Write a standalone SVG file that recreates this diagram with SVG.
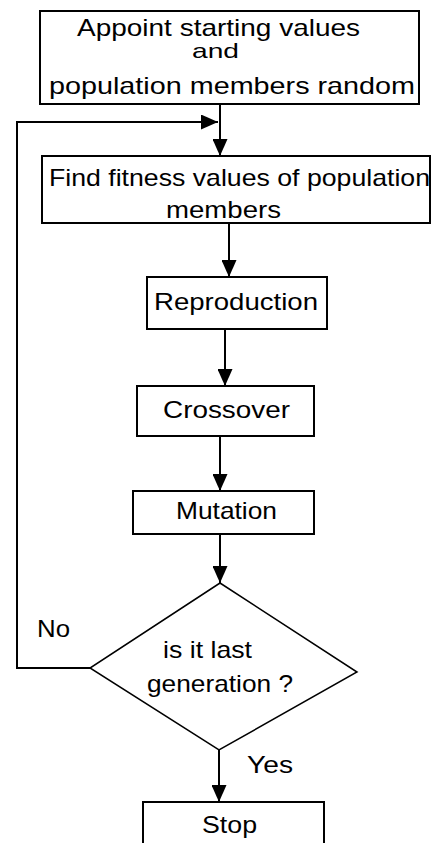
<svg xmlns="http://www.w3.org/2000/svg" width="432" height="843" viewBox="0 0 432 843">
<style>
.box{fill:#fff;stroke:#000;stroke-width:2}
.dia{fill:none;stroke:#000;stroke-width:1.5}
.t{font-family:"Liberation Sans",Arial,sans-serif;font-size:24px;fill:#000}
.c{fill:none;stroke:#000;stroke-width:2}
</style>
<defs>
<marker id="ah" viewBox="0 0 17 15" refX="17" refY="7.5" markerWidth="17" markerHeight="15" markerUnits="userSpaceOnUse" orient="auto">
<path d="M0,0 L17,7.5 L0,15 Z" fill="#000"/>
</marker>
</defs>
<rect width="432" height="843" fill="#fff"/>
<g id="start">
<rect class="box" x="40" y="11" width="379" height="93"/>
<text class="t" x="77" y="36" textLength="283" lengthAdjust="spacingAndGlyphs">Appoint starting values</text>
<text class="t" x="192" y="58" style="font-size:21px" textLength="47" lengthAdjust="spacingAndGlyphs">and</text>
<text class="t" x="49" y="94" textLength="366" lengthAdjust="spacingAndGlyphs">population members random</text>
</g>
<g id="fitness">
<rect class="box" x="42" y="156" width="388" height="67"/>
<text class="t" x="49" y="186" textLength="381" lengthAdjust="spacingAndGlyphs">Find fitness values of population</text>
<text class="t" x="166" y="218" textLength="115" lengthAdjust="spacingAndGlyphs">members</text>
</g>
<g id="reproduction">
<rect class="box" x="147" y="277" width="180" height="52"/>
<text class="t" x="154" y="310" textLength="164" lengthAdjust="spacingAndGlyphs">Reproduction</text>
</g>
<g id="crossover">
<rect class="box" x="137" y="386" width="177" height="50"/>
<text class="t" x="163" y="418" textLength="127" lengthAdjust="spacingAndGlyphs">Crossover</text>
</g>
<g id="mutation">
<rect class="box" x="133" y="491" width="181" height="43"/>
<text class="t" x="176" y="519" textLength="101" lengthAdjust="spacingAndGlyphs">Mutation</text>
</g>
<g id="decision">
<path class="dia" d="M220,583 L357,672 L219,750 L90,668 Z"/>
<text class="t" x="163" y="658" textLength="89" lengthAdjust="spacingAndGlyphs">is it last</text>
<text class="t" x="147" y="692" textLength="146" lengthAdjust="spacingAndGlyphs">generation ?</text>
</g>
<g id="stop">
<rect class="box" x="143" y="802" width="181" height="50"/>
<text class="t" x="202" y="833" textLength="55" lengthAdjust="spacingAndGlyphs">Stop</text>
</g>
<g id="connectors">
<line class="c" x1="220" y1="104" x2="220" y2="156" marker-end="url(#ah)"/>
<line class="c" x1="229" y1="223" x2="229" y2="277" marker-end="url(#ah)"/>
<line class="c" x1="225" y1="329" x2="225" y2="386" marker-end="url(#ah)"/>
<line class="c" x1="220" y1="436" x2="220" y2="491" marker-end="url(#ah)"/>
<line class="c" x1="220" y1="534" x2="220" y2="583" marker-end="url(#ah)"/>
<line class="c" x1="219" y1="750" x2="219" y2="802" marker-end="url(#ah)"/>
<polyline class="c" points="90,668 17,668 17,122 218,122" marker-end="url(#ah)"/>
<text class="t" x="37" y="637" textLength="33" lengthAdjust="spacingAndGlyphs">No</text>
<text class="t" x="247" y="773" textLength="46" lengthAdjust="spacingAndGlyphs">Yes</text>
</g>
</svg>
